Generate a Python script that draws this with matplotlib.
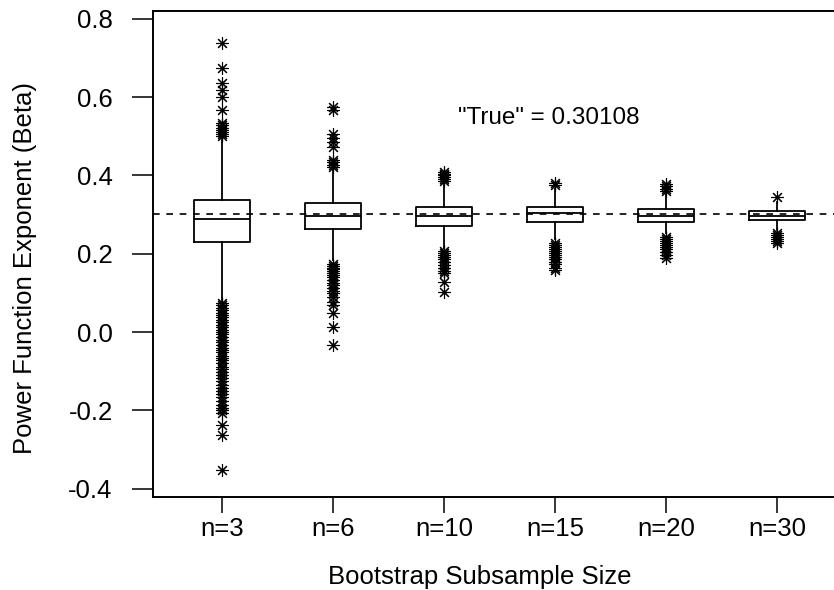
import matplotlib
matplotlib.use("Agg")
import matplotlib.pyplot as plt

plt.rcParams['font.family'] = ['Liberation Sans', 'DejaVu Sans']

labels = ["n=3", "n=6", "n=10", "n=15", "n=20", "n=30"]
q1 = [0.230, 0.263, 0.271, 0.281, 0.281, 0.286]
med = [0.289, 0.296, 0.296, 0.304, 0.297, 0.296]
q3 = [0.337, 0.329, 0.319, 0.319, 0.314, 0.309]
whislo = [0.080, 0.185, 0.215, 0.237, 0.252, 0.262]
whishi = [0.497, 0.413, 0.380, 0.365, 0.352, 0.332]
fliers = [
    [0.738, 0.674, 0.636, 0.618, 0.600, 0.567, 0.534, 0.528, 0.522, 0.517, 0.512, 0.507, 0.502,
     0.075, 0.068, 0.062, 0.056, 0.050, 0.044, 0.038, 0.032, 0.025, 0.018, 0.012, 0.006, 0.000,
     -0.006, -0.012, -0.020, -0.026, -0.032, -0.040, -0.046, -0.052, -0.060, -0.066, -0.072,
     -0.080, -0.088, -0.095, -0.102, -0.110, -0.118, -0.126, -0.134, -0.142, -0.150, -0.158,
     -0.166, -0.175, -0.187, -0.195, -0.200, -0.207, -0.237, -0.263, -0.352],
    [0.575, 0.568, 0.505, 0.495, 0.485, 0.473, 0.440, 0.434, 0.428, 0.422,
     0.175, 0.170, 0.165, 0.160, 0.155, 0.150, 0.145, 0.140, 0.133, 0.126, 0.120, 0.113,
     0.106, 0.100, 0.090, 0.078, 0.070, 0.050, 0.013, -0.032],
    [0.410, 0.405, 0.400, 0.395, 0.390, 0.385,
     0.207, 0.202, 0.197, 0.192, 0.186, 0.180, 0.172, 0.163, 0.157, 0.150, 0.128, 0.103],
    [0.380, 0.375,
     0.227, 0.222, 0.217, 0.212, 0.207, 0.202, 0.197, 0.192, 0.186, 0.180, 0.173, 0.165, 0.158],
    [0.378, 0.372, 0.366, 0.360,
     0.243, 0.238, 0.233, 0.228, 0.223, 0.218, 0.212, 0.205, 0.197, 0.190],
    [0.345,
     0.252, 0.247, 0.242, 0.237, 0.232, 0.227],
]
true_value = 0.30108
annotation = '"True" = 0.30108'
ytick_vals = [-0.4, -0.2, 0.0, 0.2, 0.4, 0.6, 0.8]
ytick_labels = ["-0.4", "-0.2", "0.0", "0.2", "0.4", "0.6", "0.8"]

W, H = 834, 590
fig = plt.figure(figsize=(W / 100, H / 100), dpi=100)
left_px, right_px, top_px, bot_px = 153, 900, 11, 497
ax = fig.add_axes([left_px / W, (H - bot_px) / H, (right_px - left_px) / W, (bot_px - top_px) / H])

stats = []
for i in range(len(labels)):
    stats.append(dict(med=med[i], q1=q1[i], q3=q3[i], whislo=whislo[i], whishi=whishi[i],
                      fliers=fliers[i], label=labels[i]))

positions = list(range(1, len(labels) + 1))
lw = 1.3
ax.bxp(stats, positions=positions, widths=0.5, showcaps=False,
       boxprops=dict(color='black', linewidth=lw),
       whiskerprops=dict(color='black', linewidth=lw, linestyle='-'),
       medianprops=dict(color='black', linewidth=lw),
       flierprops=dict(marker=(8, 2, 0), markersize=9, markeredgecolor='black',
                       markerfacecolor='black', markeredgewidth=0.8, linestyle='none'),
       zorder=3)

ax.axhline(true_value, color='black', linewidth=1.2, linestyle=(0, (4, 4)), zorder=2)

ax.set_xlim(1 - (222 - left_px) / 111, 1 + (right_px - 222) / 111)
ax.set_ylim(-0.421, 0.820)

ax.spines['right'].set_visible(False)
for s in ['left', 'bottom', 'top']:
    ax.spines[s].set_linewidth(1.4)

fs = 18.5
ax.set_yticks(ytick_vals)
ax.set_yticklabels(ytick_labels)
ax.set_xticks(positions)
ax.set_xticklabels(labels)
ax.tick_params(axis='y', direction='out', length=15, width=1.1, pad=14, labelsize=fs)
ax.tick_params(axis='x', direction='out', length=11.5, width=1.1, pad=3, labelsize=fs)

ax.text(3.94, 0.547, annotation, ha='center', va='center', fontsize=17.5)

fig.text(480 / W, 1 - 577 / H, "Bootstrap Subsample Size", ha='center', va='center', fontsize=fs)
fig.text(25 / W, 1 - 268 / H, "Power Function Exponent (Beta)", ha='center', va='center',
         rotation=90, fontsize=fs)

fig.savefig("out.png", dpi=100)
